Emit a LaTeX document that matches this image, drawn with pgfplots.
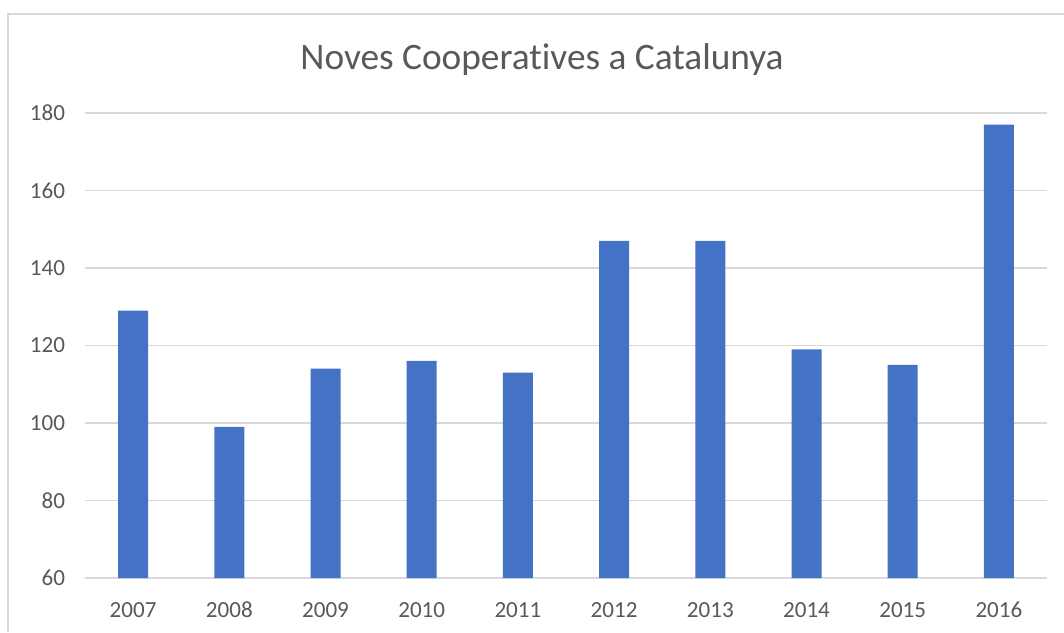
\documentclass[border=0pt]{standalone}
\usepackage{pgfplots}
\pgfplotsset{compat=1.18}
\usepackage{fontspec}
\setmainfont{Carlito}[Ligatures=NoCommon]
\definecolor{barblue}{HTML}{4472C4}
\definecolor{txtgray}{HTML}{595959}
\definecolor{gridgray}{HTML}{D9D9D9}
\begin{document}
\begin{tikzpicture}
\useasboundingbox (0pt,0pt) rectangle (798pt,474pt);
\fill[white] (0pt,0pt) rectangle (798pt,474pt);
\draw[gridgray, line width=1.5pt] (6pt,0pt) -- (6pt,463.5pt) -- (798pt,463.5pt);
\node[anchor=base, text=txtgray, font=\fontsize{28}{34}\selectfont] at (406.5pt,421.5pt) {Noves Cooperatives a Catalunya};
\begin{axis}[
    at={(63.75pt,40.5pt)}, anchor=south west,
    scale only axis,
    width=721.5pt, height=348.75pt,
    ybar, bar width=22.5pt,
    xmin=-0.5, xmax=9.5,
    ymin=60, ymax=180,
    ytick={60,80,...,180},
    xtick=data,
    xticklabels={2007,2008,2009,2010,2011,2012,2013,2014,2015,2016},
    axis x line*=bottom,
    axis y line*=left,
    y axis line style={draw=none},
    x axis line style={gridgray, line width=1.2pt, -},
    ymajorgrids,
    grid style={gridgray, line width=1.2pt},
    major tick length=0pt,
    tick label style={text=txtgray, font=\fontsize{17.3}{20}\selectfont},
    yticklabel style={anchor=east, xshift=-11.5pt},
    xticklabel style={anchor=base, yshift=-29.25pt},
    /pgf/number format/assume math mode=true,
]
\addplot[fill=barblue, draw=none] coordinates {
    (0,129) (1,99) (2,114) (3,116) (4,113)
    (5,147) (6,147) (7,119) (8,115) (9,177)
};
\end{axis}
\end{tikzpicture}
\end{document}
